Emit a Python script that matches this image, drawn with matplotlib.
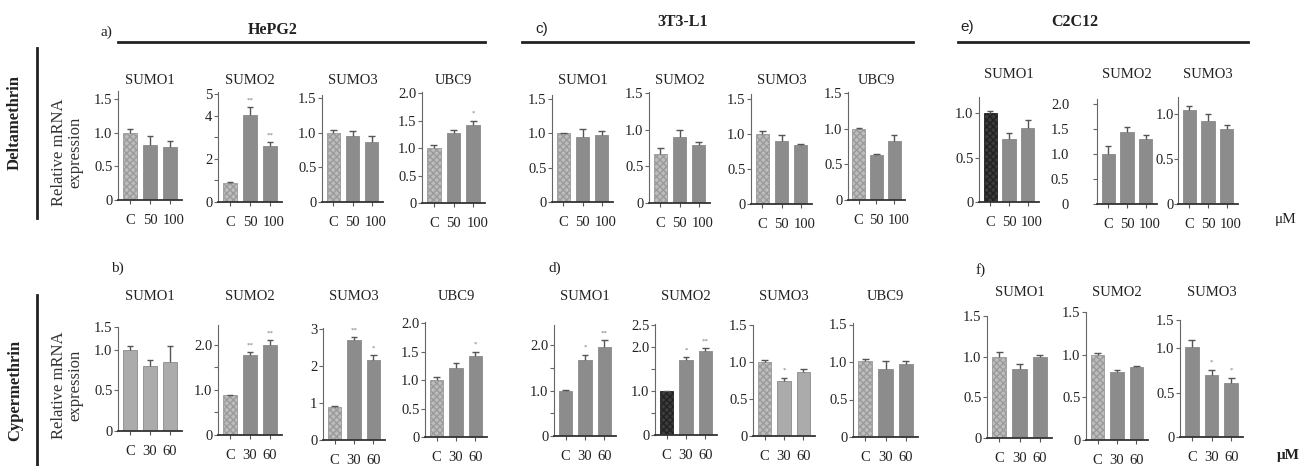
import matplotlib.pyplot as plt
import matplotlib.transforms as mtransforms
import numpy as np
from matplotlib.lines import Line2D

plt.rcParams.update({
    "figure.facecolor": "white",
    "font.family": ["Liberation Serif", "DejaVu Serif"],
    "font.size": 10,
})

W, H = 1300, 466

doses_delta = ["C", "50", "100"]
doses_cyper = ["C", "30", "60"]

# Deltamethrin: a) HePG2, c) 3T3-L1, e) C2C12
a_sumo1 = [1.0, 0.82, 0.79]
a_sumo1_err = [0.05, 0.13, 0.08]
a_sumo2 = [0.9, 4.05, 2.6]
a_sumo2_err = [0.03, 0.35, 0.2]
a_sumo3 = [1.0, 0.95, 0.87]
a_sumo3_err = [0.04, 0.08, 0.08]
a_ubc9 = [1.0, 1.27, 1.42]
a_ubc9_err = [0.05, 0.05, 0.08]

c_sumo1 = [1.0, 0.95, 0.98]
c_sumo1_err = [0.01, 0.12, 0.06]
c_sumo2 = [0.67, 0.9, 0.79]
c_sumo2_err = [0.08, 0.1, 0.05]
c_sumo3 = [1.0, 0.9, 0.84]
c_sumo3_err = [0.04, 0.09, 0.02]
c_ubc9 = [1.0, 0.64, 0.83]
c_ubc9_err = [0.01, 0.01, 0.08]

e_sumo1 = [1.0, 0.71, 0.83]
e_sumo1_err = [0.02, 0.06, 0.09]
e_sumo2 = [1.0, 1.45, 1.3]
e_sumo2_err = [0.16, 0.1, 0.09]
e_sumo3 = [1.05, 0.92, 0.83]
e_sumo3_err = [0.04, 0.08, 0.05]

# Cypermethrin: b) HePG2, d) 3T3-L1, f) C2C12
b_sumo1 = [1.0, 0.8, 0.85]
b_sumo1_err = [0.05, 0.08, 0.2]
b_sumo2 = [0.88, 1.78, 2.0]
b_sumo2_err = [0.01, 0.06, 0.1]
b_sumo3 = [0.9, 2.7, 2.17]
b_sumo3_err = [0.02, 0.08, 0.12]
b_ubc9 = [1.0, 1.22, 1.43]
b_ubc9_err = [0.05, 0.08, 0.07]

d_sumo1 = [1.0, 1.67, 1.96]
d_sumo1_err = [0.01, 0.12, 0.15]
d_sumo2 = [1.0, 1.7, 1.9]
d_sumo2_err = [0.01, 0.07, 0.07]
d_sumo3 = [1.0, 0.74, 0.86]
d_sumo3_err = [0.03, 0.05, 0.05]
d_ubc9 = [1.02, 0.91, 0.98]
d_ubc9_err = [0.02, 0.1, 0.03]

f_sumo1 = [1.0, 0.85, 0.99]
f_sumo1_err = [0.06, 0.06, 0.03]
f_sumo2 = [1.0, 0.8, 0.85]
f_sumo2_err = [0.02, 0.02, 0.02]
f_sumo3 = [1.02, 0.7, 0.61]
f_sumo3_err = [0.08, 0.06, 0.06]

# significance marks
a_sumo2_sig = ["", "**", "**"]
a_ubc9_sig = ["", "", "*"]
b_sumo2_sig = ["", "**", "**"]
b_sumo3_sig = ["", "**", "*"]
b_ubc9_sig = ["", "", "*"]
d_sumo1_sig = ["", "*", "**"]
d_sumo2_sig = ["", "*", "**"]
d_sumo3_sig = ["", "*", ""]
f_sumo3_sig = ["", "*", "*"]
no_sig = ["", "", ""]

std15 = ([0, 0.5, 1.0, 1.5], ["0", "0.5", "1.0", "1.5"])
std20 = ([0, 0.5, 1.0, 1.5, 2.0], ["0", "0.5", "1.0", "1.5", "2.0"])
to10 = ([0, 0.5, 1.0], ["0", "0.5", "1.0"])
half2 = ([0, 0.5, 1.0, 1.5, 2.0], ["0", "", "1.0", "", "2.0"])

LIGHT, MID, PALE, DARK = "#bdbdbd", "#8c8c8c", "#ababab", "#3c3c3c"

# (title, values, errors, sig, doses, ylim top, ticks, ctrl colour, treated colour,
#  axis box in pixels: x left, x right, y zero, y top, ytick pad)
panels = [
    ("SUMO1", a_sumo1, a_sumo1_err, no_sig, doses_delta, 1.62, std15, LIGHT, MID, (118, 182, 200, 91), 1),
    ("SUMO2", a_sumo2, a_sumo2_err, a_sumo2_sig, doses_delta, 5.1,
     ([0, 1, 2, 3, 4, 5], ["0", "", "2", "", "4", "5"]), LIGHT, MID, (218, 282, 202, 92), 1),
    ("SUMO3", a_sumo3, a_sumo3_err, no_sig, doses_delta, 1.55, std15, LIGHT, MID, (322, 383, 202, 95), 1),
    ("UBC9", a_ubc9, a_ubc9_err, a_ubc9_sig, doses_delta, 2.02, std20, LIGHT, MID, (422, 485, 203, 92), 1),
    ("SUMO1", c_sumo1, c_sumo1_err, no_sig, doses_delta, 1.56, std15, LIGHT, MID, (552, 613, 202, 95), 1),
    ("SUMO2", c_sumo2, c_sumo2_err, no_sig, doses_delta, 1.52, std15, LIGHT, MID, (649, 710, 203, 92), 1),
    ("SUMO3", c_sumo3, c_sumo3_err, no_sig, doses_delta, 1.57, std15, LIGHT, MID, (751, 812, 204, 94), 1),
    ("UBC9", c_ubc9, c_ubc9_err, no_sig, doses_delta, 1.52, std15, LIGHT, MID, (848, 905, 200, 92), 1),
    ("SUMO1", e_sumo1, e_sumo1_err, no_sig, doses_delta, 1.18, to10, DARK, MID, (979, 1039, 202, 97), 1),
    ("SUMO2", e_sumo2, e_sumo2_err, no_sig, doses_delta, 2.1, std20, MID, MID, (1097, 1157, 204, 99), 17),
    ("SUMO3", e_sumo3, e_sumo3_err, no_sig, doses_delta, 1.19, to10, MID, MID, (1178, 1238, 204, 97), 0),
    ("SUMO1", b_sumo1, b_sumo1_err, no_sig, doses_cyper, 1.28,
     ([0, 0.5, 1.0, 1.28], ["0", "0.5", "1.0", "1.5"]), PALE, PALE, (118, 182, 431, 327), 1),
    ("SUMO2", b_sumo2, b_sumo2_err, b_sumo2_sig, doses_cyper, 2.44, half2, LIGHT, MID, (218, 282, 435, 325), 1),
    ("SUMO3", b_sumo3, b_sumo3_err, b_sumo3_sig, doses_cyper, 3.02,
     ([0, 1, 2, 3], ["0", "1", "2", "3"]), LIGHT, MID, (323, 385, 440, 328), 1),
    ("UBC9", b_ubc9, b_ubc9_err, b_ubc9_sig, doses_cyper, 2.02, std20, LIGHT, MID, (425, 487, 437, 322), 1),
    ("SUMO1", d_sumo1, d_sumo1_err, d_sumo1_sig, doses_cyper, 2.44, half2, MID, MID, (554, 616, 436, 325), 1),
    ("SUMO2", d_sumo2, d_sumo2_err, d_sumo2_sig, doses_cyper, 2.52,
     ([0, 0.5, 1.0, 1.5, 2.0, 2.5], ["0", "", "1.0", "", "2.0", "2.5"]), DARK, MID, (655, 717, 435, 324), 1),
    ("SUMO3", d_sumo3, d_sumo3_err, d_sumo3_sig, doses_cyper, 1.5, std15, LIGHT, PALE, (753, 815, 436, 325), 1),
    ("UBC9", d_ubc9, d_ubc9_err, no_sig, doses_cyper, 1.52, std15, LIGHT, MID, (853, 918, 437, 323), 1),
    ("SUMO1", f_sumo1, f_sumo1_err, no_sig, doses_cyper, 1.5, std15, LIGHT, MID, (987, 1052, 438, 316), 1),
    ("SUMO2", f_sumo2, f_sumo2_err, no_sig, doses_cyper, 1.5, std15, LIGHT, MID, (1086, 1148, 440, 312), 1),
    ("SUMO3", f_sumo3, f_sumo3_err, f_sumo3_sig, doses_cyper, 1.32,
     ([0, 0.5, 1.0, 1.32], ["0", "0.5", "1.0", "1.5"]), MID, MID, (1180, 1243, 437, 320), 1),
]


def fx(x):
    return x / W


def fy(y):
    return 1 - y / H


fig = plt.figure(figsize=(13, 4.66), dpi=100)
nudge = mtransforms.ScaledTranslation(4 / 100, 0, fig.dpi_scale_trans)

for title, vals, errs, sig, doses, ytop, (tpos, tlab), cctrl, ctreat, box, ypad in panels:
    x0, x1, y0, y1 = box
    ax = fig.add_axes([fx(x0), fy(y0), (x1 - x0) / W, (y0 - y1) / H])
    x = np.arange(len(vals))
    vals = np.array(vals)
    errs = np.array(errs)
    bars = ax.bar(x, vals, width=0.7, color=[cctrl, ctreat, ctreat],
                  edgecolor="#8a8a8a", linewidth=0.6, zorder=2)
    if cctrl in (LIGHT, DARK):
        bars[0].set_hatch("xxxxx")
        bars[0].set_edgecolor("#9a9a9a" if cctrl == LIGHT else "#222222")
    ax.vlines(x, vals, vals + errs, color="#555555", lw=1.0, zorder=3)
    ax.hlines(vals + errs, x - 0.17, x + 0.17, color="#555555", lw=1.0, zorder=3)
    for xi, top, s in zip(x, vals + errs, sig):
        if s:
            ax.text(xi, top + ytop * 0.04, s, ha="center", va="bottom",
                    fontsize=5, color="#777777")
    ax.set_xlim(-0.6, 2.6)
    ax.set_ylim(0, ytop)
    ax.set_xticks(x)
    ax.set_xticklabels(doses)
    ax.set_yticks(tpos)
    ax.set_yticklabels(tlab)
    for sp in ("top", "right"):
        ax.spines[sp].set_visible(False)
    ax.spines["left"].set_color("#666666")
    ax.spines["left"].set_linewidth(0.8)
    ax.spines["bottom"].set_color("#333333")
    ax.spines["bottom"].set_linewidth(1.3)
    ax.tick_params(axis="x", length=3, width=0.8, color="#555555", pad=7,
                   labelsize=10.5, labelcolor="#222222")
    ax.tick_params(axis="y", length=3, width=0.8, color="#666666", pad=ypad,
                   labelsize=10.5, labelcolor="#222222")
    for lab in ax.get_xticklabels():
        if len(lab.get_text()) == 3:
            lab.set_transform(lab.get_transform() + nudge)
    ax.patch.set_alpha(0)
    ty = 80 if y0 < 233 else 296
    if x0 > 950:
        ty -= 6 if y0 < 233 else 3
    fig.text(fx((x0 + x1) / 2), fy(ty), title, ha="center", va="center",
             fontsize=10.5, color="#222222")

# group headers
headers = [
    ("a)", 106, 32, "HePG2", 273, 30, 118, 485),
    ("c)", 542, 29, "3T3-L1", 683, 22, 522, 913),
    ("e)", 967, 27, "C2C12", 1075, 22, 958, 1248),
]
for letter, lx, ly, name, nx, ny, hx0, hx1 in headers:
    fam = ["Liberation Sans"] if letter in ("c)", "e)") else ["Liberation Serif"]
    fig.text(fx(lx), fy(ly), letter, ha="center", va="center", fontsize=11,
             family=fam, color="#222222")
    fig.text(fx(nx), fy(ny), name, ha="center", va="center", fontsize=11.5,
             fontweight="bold", color="#222222")
    fig.add_artist(Line2D([fx(hx0), fx(hx1)], [fy(42), fy(42)],
                          transform=fig.transFigure, color="#222222", lw=2))

for letter, lx, ly in [("b)", 117, 268), ("d)", 555, 268), ("f)", 981, 270)]:
    fig.text(fx(lx), fy(ly), letter, ha="center", va="center", fontsize=11,
             color="#222222")

# row labels
for name, cy, ly0, ly1, ey in [("Deltamethrin", 122, 48, 218, 152),
                               ("Cypermethrin", 390, 295, 466, 385)]:
    fig.text(fx(15), fy(cy), name, rotation=90, ha="center", va="center",
             fontsize=12, fontweight="bold", color="#222222")
    fig.add_artist(Line2D([fx(37), fx(37)], [fy(ly0), fy(ly1)],
                          transform=fig.transFigure, color="#222222", lw=2))
    fig.text(fx(67), fy(ey), "Relative mRNA\nexpression", rotation=90,
             ha="center", va="center", fontsize=12, linespacing=1.0,
             color="#333333")

fig.text(fx(1286), fy(219), "μM", ha="center", va="center", fontsize=11,
         color="#222222")
fig.text(fx(1288), fy(456), "μM", ha="center", va="center", fontsize=11,
         fontweight="bold", color="#222222")

fig.savefig("out.png", dpi=100, facecolor="white")
plt.close(fig)
